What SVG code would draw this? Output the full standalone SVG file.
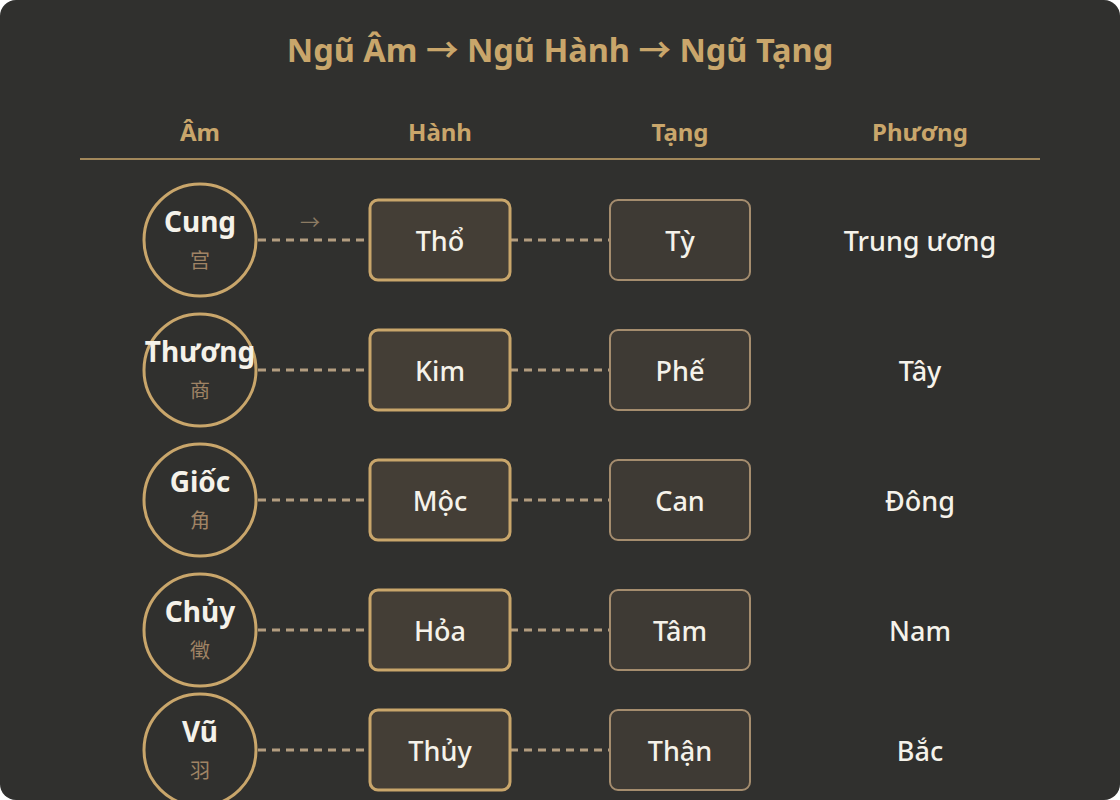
<svg xmlns="http://www.w3.org/2000/svg" width="1120" height="800" viewBox="0 0 1120 800">
<style>
text{font-family:"Noto Sans","Noto Sans CJK SC",sans-serif;text-anchor:middle;dominant-baseline:central}
.title{font-size:32.5px;font-weight:700;fill:#c9a66b}
.hdr{font-size:24px;font-weight:700;fill:#c9a66b}
.name{font-size:28px;font-weight:700;fill:#f5f2ea}
.cjk{font-size:20px;fill:#a08465;font-family:"Noto Sans CJK SC",sans-serif}
.lbl{font-size:27px;font-weight:500;fill:#f5f2ea}
.circ{fill:none;stroke:#c9a66b;stroke-width:3}
.hb{fill:#443e36;stroke:#c9a66b;stroke-width:3}
.tb{fill:#3e3a34;stroke:#a58d6e;stroke-width:2}
.dash{stroke:#b39d80;stroke-width:3;stroke-dasharray:8 6;fill:none}
</style>
<rect x="0" y="0" width="1120" height="800" rx="16" fill="#30302e"/>
<text class="title" x="560" y="49">Ngũ Âm → Ngũ Hành → Ngũ Tạng</text>
<g id="header">
<text class="hdr" x="200" y="131">Âm</text>
<text class="hdr" x="440" y="131">Hành</text>
<text class="hdr" x="680" y="131">Tạng</text>
<text class="hdr" x="920" y="131">Phương</text>
<line x1="80" y1="159" x2="1040" y2="159" stroke="#c9a66b" stroke-width="1.5"/>
</g>
<g id="connectors">
<line class="dash" x1="258" y1="240" x2="370" y2="240"/>
<line class="dash" x1="510" y1="240" x2="610" y2="240"/>
<line class="dash" x1="258" y1="370" x2="370" y2="370"/>
<line class="dash" x1="510" y1="370" x2="610" y2="370"/>
<line class="dash" x1="258" y1="500" x2="370" y2="500"/>
<line class="dash" x1="510" y1="500" x2="610" y2="500"/>
<line class="dash" x1="258" y1="630" x2="370" y2="630"/>
<line class="dash" x1="510" y1="630" x2="610" y2="630"/>
<line class="dash" x1="258" y1="750" x2="370" y2="750"/>
<line class="dash" x1="510" y1="750" x2="610" y2="750"/>
<text x="310" y="222" style="font-size:20px;fill:#8c7b63">→</text>
</g>
<g id="am-cung"><circle class="circ" cx="200" cy="240" r="56"/><text class="name" x="200" y="221">Cung</text><text class="cjk" x="200" y="259">宫</text></g>
<g id="am-thuong"><circle class="circ" cx="200" cy="370" r="56"/><text class="name" x="200" y="351">Thương</text><text class="cjk" x="200" y="389">商</text></g>
<g id="am-gioc"><circle class="circ" cx="200" cy="500" r="56"/><text class="name" x="200" y="481">Giốc</text><text class="cjk" x="200" y="519">角</text></g>
<g id="am-chuy"><circle class="circ" cx="200" cy="630" r="56"/><text class="name" x="200" y="611">Chủy</text><text class="cjk" x="200" y="649">徵</text></g>
<g id="am-vu"><circle class="circ" cx="200" cy="750" r="56"/><text class="name" x="200" y="731">Vũ</text><text class="cjk" x="200" y="769">羽</text></g>
<g id="hanh-tho"><rect class="hb" x="370" y="200" width="140" height="80" rx="8"/><text class="lbl" x="440" y="240">Thổ</text></g>
<g id="hanh-kim"><rect class="hb" x="370" y="330" width="140" height="80" rx="8"/><text class="lbl" x="440" y="370">Kim</text></g>
<g id="hanh-moc"><rect class="hb" x="370" y="460" width="140" height="80" rx="8"/><text class="lbl" x="440" y="500">Mộc</text></g>
<g id="hanh-hoa"><rect class="hb" x="370" y="590" width="140" height="80" rx="8"/><text class="lbl" x="440" y="630">Hỏa</text></g>
<g id="hanh-thuy"><rect class="hb" x="370" y="710" width="140" height="80" rx="8"/><text class="lbl" x="440" y="750">Thủy</text></g>
<g id="tang-ty"><rect class="tb" x="610" y="200" width="140" height="80" rx="8"/><text class="lbl" x="680" y="240">Tỳ</text></g>
<g id="tang-phe"><rect class="tb" x="610" y="330" width="140" height="80" rx="8"/><text class="lbl" x="680" y="370">Phế</text></g>
<g id="tang-can"><rect class="tb" x="610" y="460" width="140" height="80" rx="8"/><text class="lbl" x="680" y="500">Can</text></g>
<g id="tang-tam"><rect class="tb" x="610" y="590" width="140" height="80" rx="8"/><text class="lbl" x="680" y="630">Tâm</text></g>
<g id="tang-than"><rect class="tb" x="610" y="710" width="140" height="80" rx="8"/><text class="lbl" x="680" y="750">Thận</text></g>
<g id="phuong">
<text class="lbl" x="920" y="240">Trung ương</text>
<text class="lbl" x="920" y="370">Tây</text>
<text class="lbl" x="920" y="500">Đông</text>
<text class="lbl" x="920" y="630">Nam</text>
<text class="lbl" x="920" y="750">Bắc</text>
</g>
</svg>
